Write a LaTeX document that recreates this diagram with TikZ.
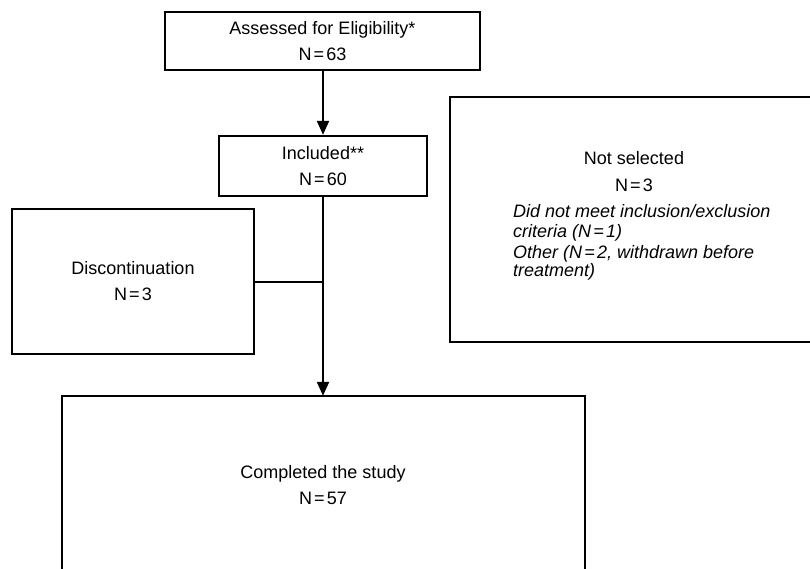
\documentclass[tikz,border=0pt]{standalone}
\usepackage{fontspec}
\setmainfont{Liberation Sans}
\usetikzlibrary{arrows.meta}
\newcommand{\eqn}[1]{N\kern2.2pt=\kern2.2pt#1}
\begin{document}
\begin{tikzpicture}[x=1pt,y=-1pt,
  box/.style={draw, line width=2.4pt, rectangle, inner sep=0pt, align=center,
              font=\fontsize{18}{26}\selectfont},
  openbox/.style={rectangle, inner sep=0pt},
  edge/.style={line width=2.4pt, line join=miter},
  txt/.style={inner sep=0pt, anchor=base, font=\fontsize{18}{20}\selectfont},
  itxt/.style={inner sep=0pt, anchor=base west, font=\fontsize{18}{20}\selectfont\itshape},
  arr/.style={line width=2.2pt, -{Triangle[length=14pt,width=12pt]}},
  ln/.style={line width=2pt}]
\useasboundingbox (0,0) rectangle (810,569);
\clip (0,0) rectangle (810,569);

% boxes
\node[box, minimum width=315pt, minimum height=58pt] (top) at (322.5,41)
  {Assessed for Eligibility*\\\eqn{63}};
\node[box, minimum width=208pt, minimum height=60pt] (incl) at (323,166)
  {Included**\\\eqn{60}};
\node[box, minimum width=242pt, minimum height=145pt] (disc) at (133,281.5)
  {Discontinuation\\\eqn{3}};
% boxes cut off by the picture's edge
\node[openbox, minimum width=400pt, minimum height=245pt] (notsel) at (650,219.5) {};
\draw[edge] (notsel.north east) -- (notsel.north west) -- (notsel.south west) -- (notsel.south east);
\node[openbox, minimum width=523pt, minimum height=240pt] (comp) at (323.5,516) {};
\draw[edge] (comp.south west) -- (comp.north west) -- (comp.north east) -- (comp.south east);

% texts in the "Not selected" box
\node[txt] (ns1) at (634,165) {Not selected};
\node[txt] (ns2) at (634,192) {\eqn{3}};
\node[itxt] (ns3) at (513,218) {Did not meet inclusion/exclusion};
\node[itxt] (ns4) at (513,237) {criteria (\eqn{1})};
\node[itxt] (ns5) at (513,258) {Other (\eqn{2}, withdrawn before};
\node[itxt] (ns6) at (513,276) {treatment)};

% texts in the "Completed" box
\node[txt] (c1) at (323,478) {Completed the study};
\node[txt] (c2) at (323,504) {\eqn{57}};

% connectors
\draw[arr] (incl.north |- top.south) -- (incl.north);
\draw[arr] (incl.south) -- (incl.south |- comp.north);
\draw[ln] (disc.east) -- (disc.east -| incl.south);
\end{tikzpicture}
\end{document}
